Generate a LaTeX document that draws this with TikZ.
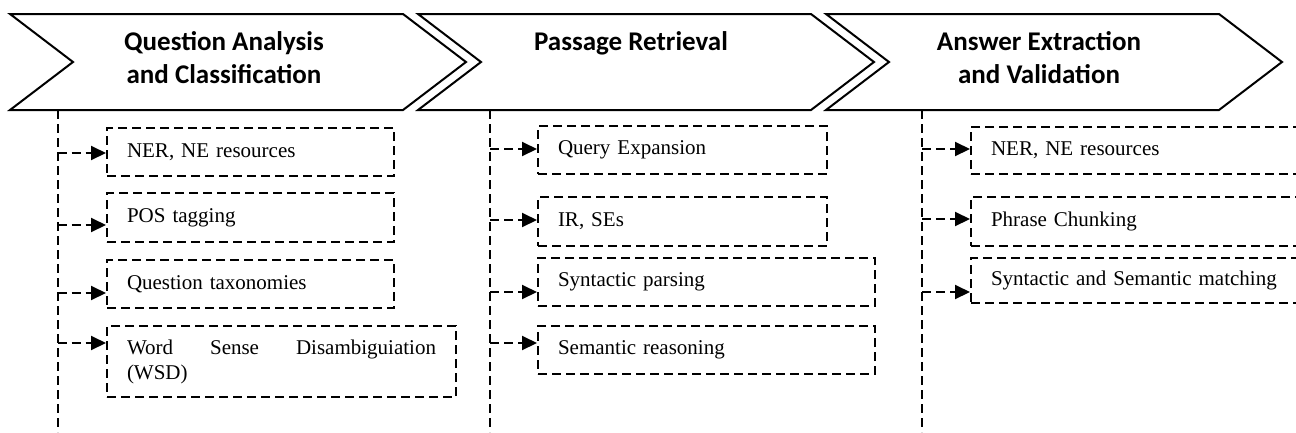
\documentclass[tikz,border=0pt]{standalone}
\usepackage{fontspec}
\setmainfont{Liberation Serif}
\newfontfamily\headfont{Carlito}
\usetikzlibrary{arrows.meta}

\begin{document}
\begin{tikzpicture}[x=1pt,y=-1pt,
  stage/.style={draw=black, line width=2pt, line join=miter},
  head/.style={font=\headfont\bfseries\fontsize{27}{33}\selectfont, align=center, inner sep=0pt, anchor=base},
  task/.style={draw=black, line width=2pt, dash pattern=on 9pt off 5pt, anchor=north west,
               inner xsep=20pt, inner ysep=0pt, align=left, font=\fontsize{21}{25}\selectfont},
  trunk/.style={line width=2pt, dash pattern=on 9pt off 5pt},
  feed/.style={trunk, -{Triangle[length=15pt,width=14pt]}}
]
\path[use as bounding box] (0,0) rectangle (1296,432);
\clip (0,0) rectangle (1296,432);

% three chevron stages, each shifted by 408
\foreach \dx in {0,408,816}{
  \draw[stage] (10+\dx,14) -- (403+\dx,14) -- (466+\dx,62) -- (403+\dx,110)
               -- (10+\dx,110) -- (73+\dx,62) -- cycle;
}
% base anchor sits on the last line of each heading
\node[head] (h1) at (224,83) {Question Analysis\\and Classification};
\node[head] (h2) at (631,50) {Passage Retrieval};
\node[head] (h3) at (1039,83) {Answer Extraction\\and Validation};

% stage 1 tasks
\node[task, text width=247pt, minimum height=48pt] (a1) at (106,127) {NER, NE resources};
\node[task, text width=247pt, minimum height=49pt] (a2) at (106,192) {POS tagging};
\node[task, text width=247pt, minimum height=48pt] (a3) at (106,259) {Question taxonomies};
\node[task, text width=309pt, minimum height=71pt] (a4) at (106,325)
  {\hbox to 309pt{Word\hfil Sense\hfil Disambiguiation}\\(WSD)};

% stage 2 tasks
\node[task, text width=249pt, minimum height=48pt] (b1) at (537,125) {Query Expansion};
\node[task, text width=249pt, minimum height=49pt] (b2) at (537,196) {IR, SEs};
\node[task, text width=297pt, minimum height=48pt] (b3) at (537,257) {Syntactic parsing};
\node[task, text width=297pt, minimum height=48pt] (b4) at (537,325) {Semantic reasoning};

% stage 3 tasks
\node[task, text width=340pt, minimum height=47pt] (c1) at (970,126) {NER, NE resources};
\node[task, text width=340pt, minimum height=49pt] (c2) at (970,196) {Phrase Chunking};
\node[task, text width=340pt, minimum height=45pt] (c3) at (970,257) {Syntactic and Semantic matching};

% trunks below each stage
\coordinate (r1) at (57.5,110);  \coordinate (f1) at (57.5,432);
\coordinate (r2) at (490,110);   \coordinate (f2) at (490,432);
\coordinate (r3) at (922,110);   \coordinate (f3) at (922,432);
\draw[trunk] (r1) -- (f1);
\draw[trunk] (r2) -- (f2);
\draw[trunk] (r3) -- (f3);

% branch points on the trunks
\coordinate (j11) at (57.5,153); \coordinate (j12) at (57.5,225);
\coordinate (j13) at (57.5,293); \coordinate (j14) at (57.5,343);
\coordinate (j21) at (490,149);  \coordinate (j22) at (490,220);
\coordinate (j23) at (490,292);  \coordinate (j24) at (490,343);
\coordinate (j31) at (922,149);  \coordinate (j32) at (922,219);
\coordinate (j33) at (922,292);

\draw[feed] (j11) -- (j11 -| a1.west);
\draw[feed] (j12) -- (j12 -| a2.west);
\draw[feed] (j13) -- (j13 -| a3.west);
\draw[feed] (j14) -- (j14 -| a4.west);
\draw[feed] (j21) -- (j21 -| b1.west);
\draw[feed] (j22) -- (j22 -| b2.west);
\draw[feed] (j23) -- (j23 -| b3.west);
\draw[feed] (j24) -- (j24 -| b4.west);
\draw[feed] (j31) -- (j31 -| c1.west);
\draw[feed] (j32) -- (j32 -| c2.west);
\draw[feed] (j33) -- (j33 -| c3.west);
\end{tikzpicture}
\end{document}
